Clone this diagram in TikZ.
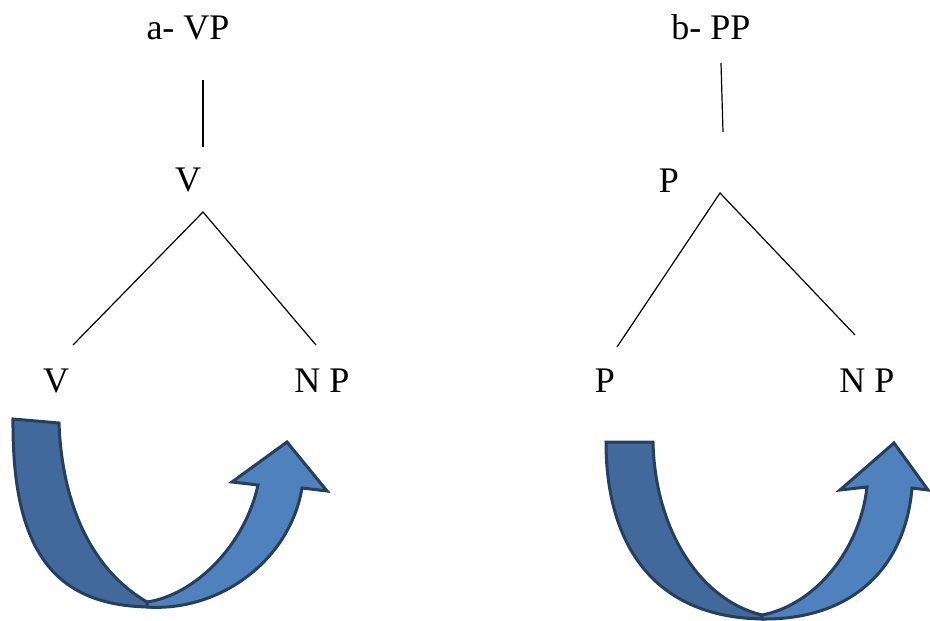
\documentclass[tikz,border=0pt]{standalone}
\usepackage{fontspec}
\setmainfont{Liberation Serif}
\definecolor{ribbondark}{HTML}{41699B}
\definecolor{ribbonlight}{HTML}{4F81BD}
\definecolor{ribbonedge}{HTML}{243F60}

\begin{document}
\begin{tikzpicture}[x=1pt,y=-1pt]
	\tikzstyle{word} = [anchor=base,inner sep=0pt,font=\fontsize{36}{40}\selectfont]
	\tikzstyle{branch} = [line width=1.2pt]
	\tikzstyle{back} = [fill=ribbondark,draw=ribbonedge,line width=3pt]
	\tikzstyle{front} = [fill=ribbonlight,draw=ribbonedge,line width=3pt]

	\useasboundingbox (0,0) rectangle (930,621);

	% tree a
	\node [word] (titlea) at (188,39) {a- VP};
	\node [word] (va) at (188,191) {V};
	\node [word] (vleft) at (56,392) {V};
	\node [word] (npa) at (322,392) {N P};
	\coordinate (topa) at (203,80);
	\coordinate (stema) at (203,147);
	\coordinate (apexa) at (203,212);
	\coordinate (lefta) at (73,345);
	\coordinate (righta) at (316,345);
	\draw[branch] (topa) -- (stema);
	\draw[branch] (lefta) -- (apexa) -- (righta);

	% tree b
	\node [word] (titleb) at (711,39) {b- PP};
	\node [word] (pb) at (669,192) {P};
	\node [word] (pleft) at (605,392) {P};
	\node [word] (npb) at (867,392) {N P};
	\coordinate (topb) at (721,63);
	\coordinate (stemb) at (723,132);
	\coordinate (apexb) at (720,193);
	\coordinate (leftb) at (617,347);
	\coordinate (rightb) at (855,335);
	\draw[branch] (topb) -- (stemb);
	\draw[branch] (leftb) -- (apexb) -- (rightb);

	% ribbon arrows
	\draw[back] (13,419) -- (59,423) .. controls (62,505) and (92,570) .. (147,602)
		-- (150,607) .. controls (50,606) and (12,545) .. (13,419) -- cycle;
	\draw[front] (147,602) .. controls (195,595) and (245,545) .. (258,485)
		-- (232,482) -- (287,442) -- (327,491) -- (302,488)
		.. controls (290,560) and (220,612) .. (147,607) -- cycle;

	\draw[back] (606,442) -- (653,442) .. controls (655,530) and (700,600) .. (762,615)
		-- (762,619) .. controls (650,617) and (606,540) .. (606,442) -- cycle;
	\draw[front] (762,615) .. controls (815,605) and (860,550) .. (867,487)
		-- (840,490) -- (894,443) -- (928,490) -- (912,488)
		.. controls (905,570) and (850,620) .. (762,619) -- cycle;
\end{tikzpicture}
\end{document}
